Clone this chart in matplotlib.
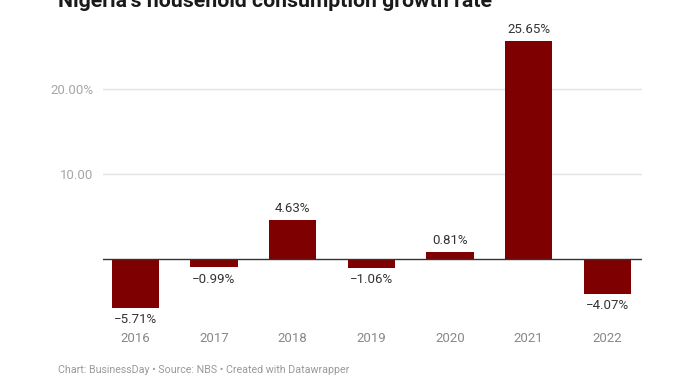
import matplotlib
matplotlib.use("Agg")
import matplotlib.pyplot as plt

plt.rcParams["font.family"] = ["Roboto", "DejaVu Sans"]

years = ["2016", "2017", "2018", "2019", "2020", "2021", "2022"]
growth = [-5.71, -0.99, 4.63, -1.06, 0.81, 25.65, -4.07]
ytick_vals = [10, 20]
ytick_labels = ["10.00", "20.00%"]

BAR = "#7f0000"
GRID = "#e2e2e2"
TICK = "#a6a6a6"
LABEL = "#333333"

fig = plt.figure(figsize=(7, 3.75), dpi=100)
ax = fig.add_axes([103 / 700, 1 - 320 / 375, (642 - 103) / 700, 300 / 375])

x = list(range(len(years)))
ax.bar(x, growth, width=0.6, color=BAR, zorder=3)

ax.set_xlim(-0.41, 6.44)
ax.set_ylim(-(320 - 259) / 8.5, (259 - 20) / 8.5)

for v in ytick_vals:
    ax.axhline(v, color=GRID, linewidth=1, zorder=1)
ax.axhline(0, color="#333333", linewidth=1, zorder=4)

ax.set_yticks(ytick_vals)
ax.set_yticklabels(ytick_labels)
ax.tick_params(axis="y", length=0, pad=7, labelsize=9.5, labelcolor=TICK)
ax.set_xticks([])

for xi, v in zip(x, growth):
    txt = f"{v:.2f}%".replace("-", "\u2212")
    if v >= 0:
        ax.text(xi, v + 0.6, txt, ha="center", va="bottom", fontsize=9.5, color=LABEL)
    else:
        ax.text(xi, v - 0.6, txt, ha="center", va="top", fontsize=9.5, color=LABEL)

# year labels below the chart
for xi, yr in zip(x, years):
    ax.text(xi, -(339 - 259) / 8.5, yr, ha="center", va="center",
            fontsize=9.5, color="#888888", clip_on=False)

for s in ax.spines.values():
    s.set_visible(False)

fig.text(58 / 700, 1 - 7 / 375, "Nigeria's household consumption growth rate",
         fontsize=15.3, fontweight="bold", color="#1a1a1a", ha="left", va="baseline")
fig.text(58 / 700, 1 - 370 / 375,
         "Chart: BusinessDay \u2022 Source: NBS \u2022 Created with Datawrapper",
         fontsize=7.7, color="#9a9a9a", ha="left", va="center")

fig.savefig("out.png", dpi=100)
